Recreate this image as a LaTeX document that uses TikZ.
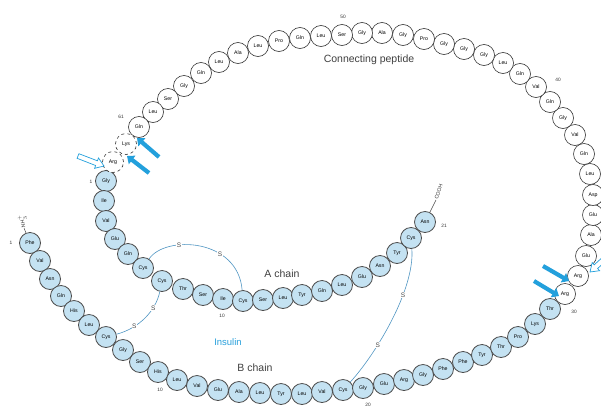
\documentclass[tikz,border=0pt]{standalone}
\usepackage{fontspec}
\setmainfont{Liberation Sans}
\usetikzlibrary{arrows.meta}
\definecolor{insblue}{RGB}{196,226,242}
\definecolor{arrowblue}{RGB}{35,160,220}
\definecolor{ssblue}{RGB}{80,150,195}
\definecolor{insulintext}{RGB}{40,160,220}
\begin{document}
\begin{tikzpicture}[x=1pt,y=-1pt,
  abead/.style={circle,draw=black!70,line width=0.8pt,fill=insblue,minimum size=21pt,inner sep=0pt,font=\fontsize{5.2}{5.5}\selectfont},
  cbead/.style={circle,draw=black!80,line width=0.6pt,fill=white,minimum size=21pt,inner sep=0pt,font=\fontsize{5.2}{5.5}\selectfont},
  cutbead/.style={cbead,dashed},
  numlab/.style={font=\fontsize{4.8}{5}\selectfont,inner sep=0pt,text=black!80},
  biglab/.style={font=\fontsize{10.5}{11}\selectfont,text=black!75,inner sep=0pt},
  ssbond/.style={draw=ssblue,line width=0.6pt},
  sslab/.style={font=\fontsize{6.5}{6.5}\selectfont,fill=white,inner sep=0.6pt,text=black!70},
  fillarrow/.style={draw=arrowblue,line width=4.2pt,-{Triangle[length=6.5pt,width=10.5pt]}},
  hollow/.style={draw=arrowblue,fill=white,line width=0.7pt,line join=miter},
  termlab/.style={font=\fontsize{5.2}{5.2}\selectfont,inner sep=0.5pt,text=black!80}
]
\useasboundingbox (0,0) rectangle (601,407);
\fill[white] (0,0) rectangle (601,407);

% ---- A chain ----
\foreach \n/\x/\y/\t in {1/106/181/Gly,2/104/201/Ile,3/106/221/Val,4/115/239/Glu,5/128/254/Gln,6/143/268/Cys,7/162/281/Cys,8/183/289/Thr,9/203/295/Ser,10/223/299/Ile,11/243/301/Cys,12/263/300/Ser,13/283/298/Leu,14/302/295/Tyr,15/322/291/Gln,16/342/285/Leu,17/362/277/Glu,18/380/266/Asn,19/397/253/Tyr,20/411/238/Cys,21/425/222/Asn}
  \node[abead] (A\n) at (\x,\y) {\t};

% ---- B chain ----
\foreach \n/\x/\y/\t in {1/30/243/Phe,2/40/261/Val,3/50/279/Asn,4/61/296/Gln,5/74/311/His,6/89/325/Leu,7/106/337/Cys,8/123/350/Gly,9/140/362/Ser,10/158/372/His,11/177/380/Leu,12/197/386/Val,13/218/390/Glu,14/239/392/Ala,15/260/393/Leu,16/281/394/Tyr,17/302/394/Leu,18/322/392/Val,19/343/390/Cys,20/363/388/Gly,21/384/384/Glu,22/404/380/Arg,23/423/375/Gly,24/443/369/Phe,25/463/362/Phe,26/482/355/Tyr,27/501/347/Thr,28/518/337/Pro,29/535/324/Lys,30/550/309/Thr}
  \node[abead] (B\n) at (\x,\y) {\t};

% ---- connecting peptide ----
\foreach \n/\x/\y/\t in {31/565/294/Arg,32/578/276/Arg,33/586/256/Glu,34/591/235/Ala,35/593/215/Glu,36/593/195/Asp,37/590/174/Leu,38/584/154/Gln,39/575/135/Val,40/563/118/Gly,41/550/102/Gln,42/536/87/Val,43/520/74/Gln,44/503/63/Leu,45/484/55/Gly,46/464/49/Gly,47/444/44/Gly,48/424/39/Pro,49/403/35/Gly,50/382/33/Ala,51/362/33/Gly,52/342/35/Ser,53/321/36/Leu,54/300/38/Gln,55/279/41/Pro,56/258/46/Leu,57/238/53/Ala,58/219/62/Leu,59/201/73/Gln,60/184/86/Gly,61/168/99/Ser,62/153/112/Leu,63/139/127/Gln}
  \node[cbead] (C\n) at (\x,\y) {\t};
\node[cutbead] (C64) at (126,144) {Lys};
\node[cutbead] (C65) at (113,162) {Arg};

% ---- disulfide bridges ----
\draw[ssbond] (A6) .. controls (165,235) and (238,238) .. (A11)
  node[sslab,pos=0.33] (s1) {S} node[sslab,pos=0.67] (s2) {S};
\draw[ssbond] (A7) .. controls (156,310) and (140,328) .. (B7)
  node[sslab,pos=0.3] (s3) {S} node[sslab,pos=0.72] (s4) {S};
\draw[ssbond] (A20) .. controls (415,290) and (375,355) .. (B19)
  node[sslab,pos=0.33] (s5) {S} node[sslab,pos=0.67] (s6) {S};

% ---- termini ----
\coordinate (cooh) at (436,200);
\draw[black!70,line width=0.5pt] (A21) -- (cooh);
\node[termlab,rotate=72,anchor=west] (coohlab) at (cooh) {COOH};
\coordinate (nh) at (24,228);
\draw[black!70,line width=0.5pt] (B1) -- (nh);
\node[termlab,rotate=100,anchor=west] (nhlab) at (nh) {NH$_3^+$};

% ---- residue numbers ----
\node[numlab] (nA1) at (91,182) {1};
\node[numlab] (nA10) at (222,316) {10};
\node[numlab] (nA21) at (444,226) {21};
\node[numlab] (nB1) at (11,243) {1};
\node[numlab] (nB10) at (160,390) {10};
\node[numlab] (nB20) at (368,405) {20};
\node[numlab] (nB30) at (574,312) {30};
\node[numlab] (nC40) at (558,80) {40};
\node[numlab] (nC50) at (343,17) {50};
\node[numlab] (nC61) at (121,117) {61};

% ---- labels ----
\node[biglab] (lcp) at (369,60) {Connecting peptide};
\node[biglab] (lac) at (282,274) {A chain};
\node[biglab] (lbc) at (255,368) {B chain};
\node[biglab,text=insulintext,font=\fontsize{9.5}{10}\selectfont] (lins) at (228,342) {Insulin};

% ---- cleavage arrows ----
\coordinate (t1) at (159,157); \coordinate (h1) at (137,138);
\coordinate (t2) at (149,173); \coordinate (h2) at (127,156);
\draw[fillarrow] (t1) -- (h1);
\draw[fillarrow] (t2) -- (h2);
\coordinate (t3) at (543,266); \coordinate (h3) at (569,281);
\coordinate (t4) at (534,281); \coordinate (h4) at (559,296);
\draw[fillarrow] (t3) -- (h3);
\draw[fillarrow] (t4) -- (h4);
% hollow arrows
\draw[hollow] (78.9,153.7) -- (97.4,160.8) -- (98.5,158.0) -- (104,166) -- (94.6,168.3) -- (95.6,165.5) -- (77.1,158.3) -- cycle;
\draw[hollow] (610.3,250.2) -- (594.2,264.8) -- (592.2,262.5) -- (590,272) -- (599.6,270.7) -- (597.6,268.5) -- (613.7,253.9) -- cycle;
\end{tikzpicture}
\end{document}
